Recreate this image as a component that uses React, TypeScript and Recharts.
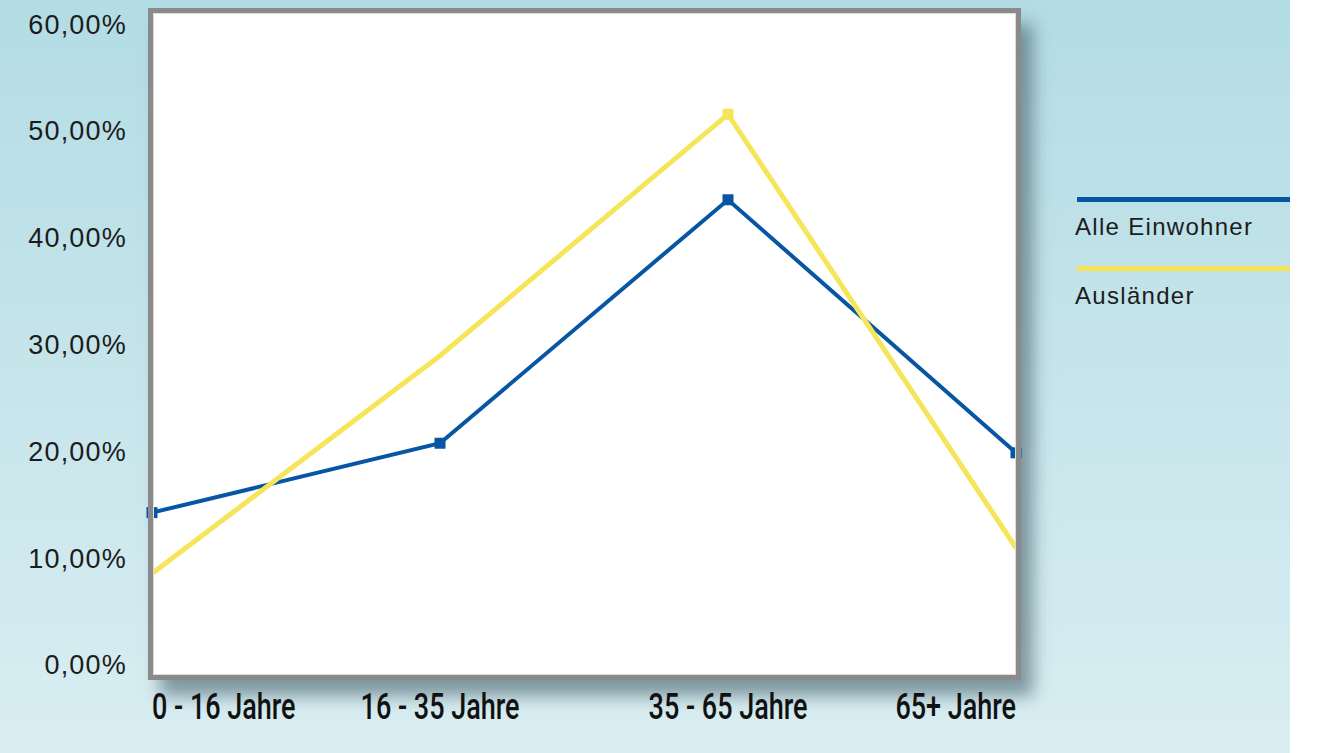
import React from 'react';
import { LineChart, Line, XAxis, YAxis, Legend } from 'recharts';

const categories = ['0 - 16 Jahre', '16 - 35 Jahre', '35 - 65 Jahre', '65+ Jahre'];
const alleEinwohner = [14.3, 20.8, 43.6, 19.9];
const auslaender = [8.6, 29.0, 51.6, 11.0];
const yTicks = [0, 10, 20, 30, 40, 50, 60];

const data = categories.map((name, i) => ({
  name,
  alle: alleEinwohner[i],
  aus: auslaender[i],
}));

const BLUE = '#0656a4';
const YELLOW = '#f6e559';
const TEXT = '#1c1c1c';
const SANS = '"Liberation Sans", Arial, sans-serif';

const fmtPct = (v: number) => v.toFixed(2).replace('.', ',') + '%';

function YTick({ x, y, payload }: any) {
  return (
    <text x={x} y={y} textAnchor="end" dominantBaseline="central" fill={TEXT}
      fontFamily={SANS} fontSize={27} letterSpacing={1.2}>
      {fmtPct(payload.value)}
    </text>
  );
}

// first label hugs the left edge, last one the right edge
function XTick({ x, y, payload, index, visibleTicksCount }: any) {
  const last = (visibleTicksCount ?? categories.length) - 1;
  const anchor = index === 0 ? 'start' : index === last ? 'end' : 'middle';
  return (
    <g transform={`translate(${x},${y + 41}) scale(0.75,1)`}>
      <text x={0} y={0} textAnchor={anchor} fill="#111" fontFamily="Roboto, sans-serif"
        fontWeight={500} fontSize={36}>
        {payload.value}
      </text>
    </g>
  );
}

const squareDot = (color: string, only?: number) => (props: any) => {
  const { cx, cy, index } = props;
  if (only !== undefined && index !== only) return <g key={`d${index}`} />;
  return <rect key={`d${index}`} x={cx - 5.5} y={cy - 5.5} width={11} height={11} fill={color} />;
};

function LegendBox({ payload }: any) {
  const order = ['Alle Einwohner', 'Ausländer'];
  const items = [...(payload ?? [])].sort(
    (a: any, b: any) => order.indexOf(a.value) - order.indexOf(b.value),
  );
  return (
    <div>
      {items.map((it: any) => (
        <div key={it.value} style={{ marginBottom: 25 }}>
          <div style={{ height: 5, background: it.color, marginLeft: 2 }} />
          <div style={{
            marginTop: 11, fontFamily: SANS, fontSize: 24, lineHeight: '28px',
            letterSpacing: 1.3, color: TEXT,
          }}>
            {it.value}
          </div>
        </div>
      ))}
    </div>
  );
}

export default function App() {
  return (
    <div style={{
      position: 'fixed', left: 0, top: 0, width: 1325, height: 753, overflow: 'hidden',
      background: 'linear-gradient(to bottom, #b3dce4 0%, #c6e5eb 50%, #d9eef2 100%)',
    }}>
      <div style={{ position: 'absolute', left: 1290, top: 0, width: 35, height: 753, background: '#fff' }} />
      {/* plot frame: white panel with drop shadow */}
      <div style={{
        position: 'absolute', left: 148, top: 8, width: 873, height: 672, background: '#fff',
        boxShadow: '12px 16px 16px rgba(70,95,105,0.6)',
      }} />
      <div style={{ position: 'absolute', left: 0, top: 0 }}>
        <LineChart width={1325} height={753} data={data}
          margin={{ top: 14, right: 309, bottom: 17, left: 0 }}>
          <XAxis dataKey="name" height={60} axisLine={false} tickLine={false} tickSize={0}
            interval={0} tick={<XTick />} />
          <YAxis domain={[-1, 61]} ticks={yTicks} width={152} axisLine={false} tickLine={false}
            tickSize={0} tickMargin={25} tick={<YTick />} />
          <Legend layout="horizontal" align="center" verticalAlign="middle" width={215}
            wrapperStyle={{ left: 1075, top: 197, width: 215 }} content={<LegendBox />} />
          <Line type="linear" dataKey="alle" name="Alle Einwohner" stroke={BLUE} strokeWidth={4}
            dot={squareDot(BLUE)} activeDot={false} isAnimationActive={false} />
          <Line type="linear" dataKey="aus" name="Ausländer" stroke={YELLOW} strokeWidth={5}
            dot={squareDot(YELLOW, 2)} activeDot={false} isAnimationActive={false} />
        </LineChart>
      </div>
      <div style={{
        position: 'absolute', left: 148, top: 8, width: 873, height: 672, boxSizing: 'border-box',
        border: '5px solid #8a8a8a', boxShadow: 'inset 0 0 0 1px #dcdcdc', pointerEvents: 'none',
      }} />
    </div>
  );
}
